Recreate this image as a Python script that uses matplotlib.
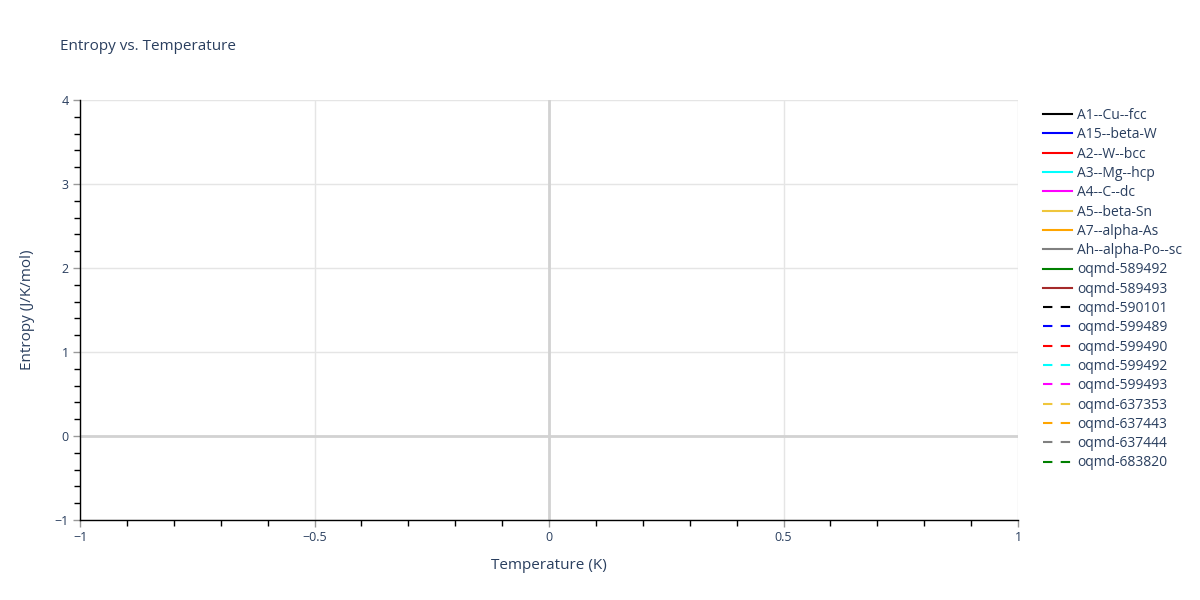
import matplotlib.pyplot as plt
from matplotlib.ticker import MultipleLocator

# series in the chart (no data points, only legend entries)
solid_names = ['A1--Cu--fcc', 'A15--beta-W', 'A2--W--bcc', 'A3--Mg--hcp', 'A4--C--dc',
               'A5--beta-Sn', 'A7--alpha-As', 'Ah--alpha-Po--sc', 'oqmd-589492', 'oqmd-589493']
solid_colors = ['black', 'blue', 'red', 'cyan', 'magenta', '#efc63c', 'orange', 'gray', 'green', 'brown']
dashed_names = ['oqmd-590101', 'oqmd-599489', 'oqmd-599490', 'oqmd-599492', 'oqmd-599493',
                'oqmd-637353', 'oqmd-637443', 'oqmd-637444', 'oqmd-683820']
dashed_colors = ['black', 'blue', 'red', 'cyan', 'magenta', '#efc63c', 'orange', 'gray', 'green']
temperature = []
entropy = []

text_color = '#2a3f5f'
plt.rcParams['font.family'] = ['Open Sans', 'DejaVu Sans']

fig = plt.figure(figsize=(12, 6), dpi=100)
ax = fig.add_axes([80 / 1200, 80 / 600, 938 / 1200, 420 / 600])

for name, color in zip(solid_names, solid_colors):
    ax.plot(temperature, entropy, color=color, lw=1.5, label=name)
for name, color in zip(dashed_names, dashed_colors):
    ax.plot(temperature, entropy, color=color, lw=1.5, dashes=(4.5, 4), label=name)

ax.set_xlim(-1, 1)
ax.set_ylim(-1, 4)
ax.xaxis.set_minor_locator(MultipleLocator(0.1))
ax.yaxis.set_minor_locator(MultipleLocator(0.2))
ax.set_xticks([-1, -0.5, 0, 0.5, 1])
ax.set_xticklabels(['\u22121', '\u22120.5', '0', '0.5', '1'])
ax.set_yticks([-1, 0, 1, 2, 3, 4])
ax.set_yticklabels(['\u22121', '0', '1', '2', '3', '4'])

ax.grid(True, which='major', color='#e5e5e5', lw=1)
ax.axhline(0, color='#d2d2d2', lw=2, zorder=1)
ax.axvline(0, color='#d2d2d2', lw=2, zorder=1)
ax.set_axisbelow(True)

for side in ['top', 'right']:
    ax.spines[side].set_visible(False)
for side in ['left', 'bottom']:
    ax.spines[side].set_color('black')
    ax.spines[side].set_linewidth(1)

ax.tick_params(which='major', direction='out', length=5, width=1, color='#999999',
               labelcolor=text_color, labelsize=9, pad=3)
ax.tick_params(which='minor', direction='out', length=4, width=1, color='black')

ax.set_xlabel('Temperature (K)', color=text_color, fontsize=11, labelpad=10)
ax.set_ylabel('Entropy (J/K/mol)', color=text_color, fontsize=11, labelpad=14)
fig.text(60 / 1200, 1 - 46 / 600, 'Entropy vs. Temperature', color=text_color,
         fontsize=11, va='center', ha='left')

leg = ax.legend(loc='upper left', bbox_to_anchor=(1043 / 1200, 1 - 108 / 600),
                bbox_transform=fig.transFigure, frameon=False, fontsize=10,
                handlelength=2.1, handletextpad=0.36, labelspacing=0.31, borderaxespad=0,
                borderpad=0)
for t in leg.get_texts():
    t.set_color(text_color)

fig.savefig('out.png', dpi=100)
